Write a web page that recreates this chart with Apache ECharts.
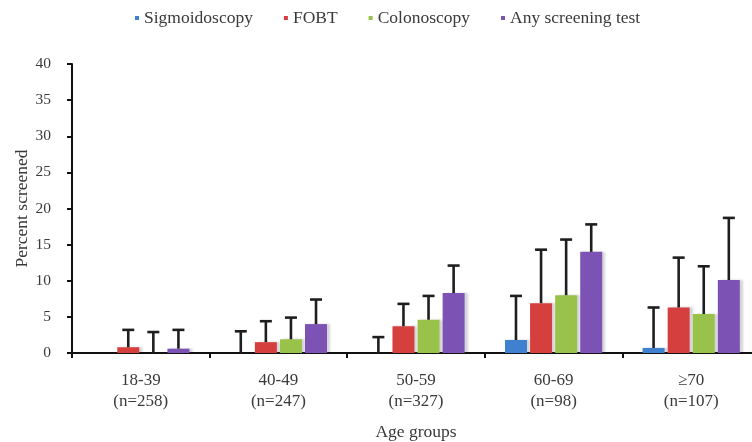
<!DOCTYPE html>
<html>
<head>
<meta charset="utf-8">
<script src="https://cdn.jsdelivr.net/npm/echarts@6/dist/echarts.min.js"></script>
<style>html,body{margin:0;padding:0;background:#fff;}#c{width:752px;height:442px;}</style>
</head>
<body>
<div id="c"></div>
<script>
var categories = ['18-39\n(n=258)', '40-49\n(n=247)', '50-59\n(n=327)', '60-69\n(n=98)', '\u226570\n(n=107)'];
var seriesNames = ['Sigmoidoscopy', 'FOBT', 'Colonoscopy', 'Any screening test'];
var sigmoidoscopy = [0, 0, 0, 1.8, 0.7];
var fobt = [0.8, 1.5, 3.7, 6.9, 6.3];
var colonoscopy = [0, 1.9, 4.6, 8.0, 5.4];
var anyTest = [0.6, 4.0, 8.3, 14.0, 10.1];
var sigmoidoscopyUpper = [null, 3.0, 2.2, 7.9, 6.3];
var fobtUpper = [3.2, 4.4, 6.8, 14.3, 13.2];
var colonoscopyUpper = [2.9, 4.9, 7.9, 15.7, 12.0];
var anyTestUpper = [3.2, 7.4, 12.1, 17.8, 18.7];
var yTicks = [0, 5, 10, 15, 20, 25, 30, 35, 40];

var colors = ['#3f80d0', '#d5403f', '#99c24b', '#7c53b4'];
var values = [sigmoidoscopy, fobt, colonoscopy, anyTest];
var uppers = [sigmoidoscopyUpper, fobtUpper, colonoscopyUpper, anyTestUpper];
var FONT = "'Liberation Serif', 'Times New Roman', serif";
var BAR_W = 22, BAR_GAP = 0.14;

var series = [];
seriesNames.forEach(function (n, k) {
  series.push({
    name: n, type: 'bar', data: values[k], barWidth: BAR_W, barGap: (BAR_GAP * 100) + '%',
    itemStyle: { color: colors[k], shadowColor: 'rgba(60,60,80,0.22)', shadowOffsetX: 3, shadowBlur: 2 },
    z: 2
  });
});
seriesNames.forEach(function (n, k) {
  var data = [];
  for (var i = 0; i < categories.length; i++) {
    if (uppers[k][i] != null) data.push([i, values[k][i], uppers[k][i]]);
  }
  series.push({
    name: n + ' error', type: 'custom', z: 5, silent: true,
    data: data,
    encode: { x: 0, y: [1, 2] },
    renderItem: function (params, api) {
      var c = api.value(0);
      var lo = api.coord([c, api.value(1)]);
      var hi = api.coord([c, api.value(2)]);
      var off = (k - 1.5) * BAR_W * (1 + BAR_GAP);
      var x = lo[0] + off;
      var cap = 6;
      var st = { stroke: '#1e1e1e', lineWidth: 2.6 };
      return {
        type: 'group',
        children: [
          { type: 'line', shape: { x1: x, y1: lo[1], x2: x, y2: hi[1] }, style: st },
          { type: 'line', shape: { x1: x - cap, y1: hi[1], x2: x + cap, y2: hi[1] }, style: st }
        ]
      };
    }
  });
});

var chart = echarts.init(document.getElementById('c'), null, { renderer: 'canvas' });
chart.setOption({
  animation: false,
  textStyle: { fontFamily: FONT },
  legend: {
    data: seriesNames, left: 130, top: 4, itemGap: 31,
    icon: 'rect', itemWidth: 4, itemHeight: 4,
    textStyle: { fontFamily: FONT, fontSize: 17.5, color: '#3a3a3a' }
  },
  grid: { left: 72, right: -8, top: 64, bottom: 89, containLabel: false, outerBoundsMode: 'none' },
  xAxis: {
    type: 'category', data: categories,
    name: 'Age groups', nameLocation: 'middle', nameGap: 70, nameMoveOverlap: false,
    nameTextStyle: { fontFamily: FONT, fontSize: 17.5, color: '#3a3a3a' },
    axisLine: { lineStyle: { color: '#111', width: 2 } },
    axisTick: { show: true, length: 5, lineStyle: { color: '#111', width: 2 } },
    axisLabel: { fontFamily: FONT, fontSize: 17, color: '#3a3a3a', lineHeight: 21, margin: 17 }
  },
  yAxis: {
    type: 'value', min: yTicks[0], max: yTicks[yTicks.length - 1], interval: 5,
    name: 'Percent screened', nameLocation: 'middle', nameGap: 41, nameRotate: 90, nameMoveOverlap: false,
    nameTextStyle: { fontFamily: FONT, fontSize: 17.5, color: '#3a3a3a' },
    axisLine: { show: true, lineStyle: { color: '#111', width: 2 } },
    axisTick: { show: true, length: 5, lineStyle: { color: '#111', width: 2 } },
    splitLine: { show: false },
    axisLabel: { fontFamily: FONT, fontSize: 15.5, color: '#3a3a3a', margin: 21 }
  },
  series: series
});
</script>
</body>
</html>
